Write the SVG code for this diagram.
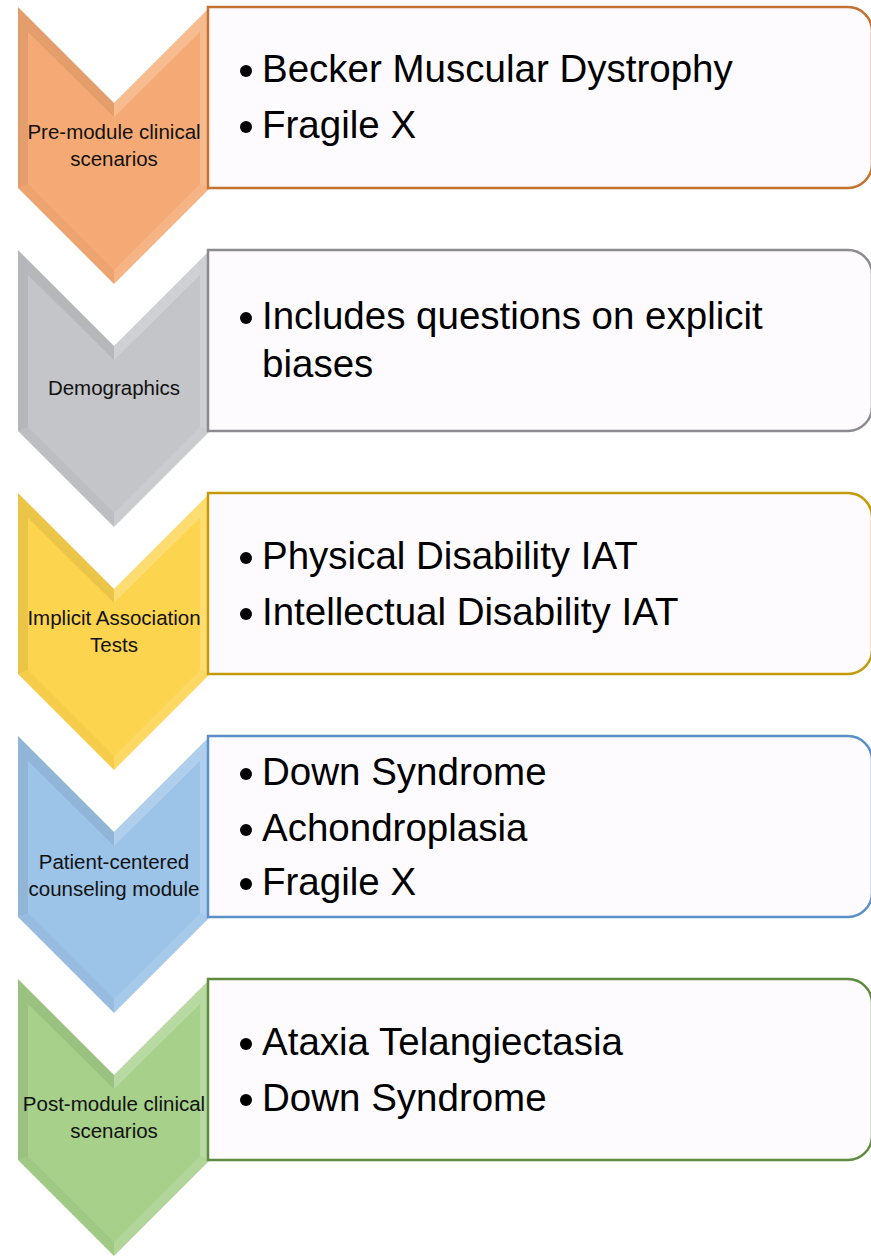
<svg xmlns="http://www.w3.org/2000/svg" width="871" height="1256" viewBox="0 0 871 1256">
<defs>
<style>
.lbl{font-family:"Liberation Sans",Arial,sans-serif;font-size:20.5px;fill:#111;text-anchor:middle}
.item{font-family:"Liberation Sans",Arial,sans-serif;font-size:38.5px;fill:#000}
.box{fill:#FEFBFE;stroke-width:2.5}
.dk{fill:#000;opacity:0.07}
.dk2{fill:#000;opacity:0.03}
.lt{fill:#fff;opacity:0.2}
.lt2{fill:#fff;opacity:0.12}
.bul{fill:#000}
</style>
<g id="chev">
<polygon points="18,0 114,96 210,0 210,181 114,277 18,181" fill="inherit"/>
<polygon class="dk" points="18,0 28,25 28,177 18,181"/>
<polygon class="dk" points="18,0 114,96 114,110 28,25"/>
<polygon class="lt" points="114,96 210,0 200,25 114,110"/>
<polygon class="lt" points="210,0 210,181 200,177 200,25"/>
<polygon class="dk2" points="18,181 28,177 114,263 114,277"/>
<polygon class="lt2" points="210,181 114,277 114,263 200,177"/>
</g>
</defs>

<g id="node1">
<use href="#chev" y="7" fill="#F5AA75"/>
<path class="box" stroke="#C4702F" d="M208,7 H848 A24,24 0 0 1 872,31 V164 A24,24 0 0 1 848,188 H208 Z"/>
<text class="lbl" x="114" y="139">Pre-module clinical</text>
<text class="lbl" x="114" y="166">scenarios</text>
<circle class="bul" cx="246" cy="71" r="6"/>
<text class="item" x="262" y="82">Becker Muscular Dystrophy</text>
<circle class="bul" cx="246" cy="127" r="6"/>
<text class="item" x="262" y="138">Fragile X</text>
</g>

<g id="node2">
<use href="#chev" y="250" fill="#C4C5C9"/>
<path class="box" stroke="#8C8C90" d="M208,250 H848 A24,24 0 0 1 872,274 V407 A24,24 0 0 1 848,431 H208 Z"/>
<text class="lbl" x="114" y="395">Demographics</text>
<circle class="bul" cx="246" cy="318" r="6"/>
<text class="item" x="262" y="329">Includes questions on explicit</text>
<text class="item" x="262" y="377">biases</text>
</g>

<g id="node3">
<use href="#chev" y="493" fill="#FDD44E"/>
<path class="box" stroke="#C49A0A" d="M208,493 H848 A24,24 0 0 1 872,517 V650 A24,24 0 0 1 848,674 H208 Z"/>
<text class="lbl" x="114" y="625">Implicit Association</text>
<text class="lbl" x="114" y="652">Tests</text>
<circle class="bul" cx="246" cy="558" r="6"/>
<text class="item" x="262" y="569">Physical Disability IAT</text>
<circle class="bul" cx="246" cy="614" r="6"/>
<text class="item" x="262" y="625">Intellectual Disability IAT</text>
</g>

<g id="node4">
<use href="#chev" y="736" fill="#9CC3E8"/>
<path class="box" stroke="#5B8FC8" d="M208,736 H848 A24,24 0 0 1 872,760 V893 A24,24 0 0 1 848,917 H208 Z"/>
<text class="lbl" x="114" y="869">Patient-centered</text>
<text class="lbl" x="114" y="896">counseling module</text>
<circle class="bul" cx="246" cy="774" r="6"/>
<text class="item" x="262" y="785">Down Syndrome</text>
<circle class="bul" cx="246" cy="830" r="6"/>
<text class="item" x="262" y="841">Achondroplasia</text>
<circle class="bul" cx="246" cy="884" r="6"/>
<text class="item" x="262" y="895">Fragile X</text>
</g>

<g id="node5">
<use href="#chev" y="979" fill="#A7D08B"/>
<path class="box" stroke="#5E8C3E" d="M208,979 H848 A24,24 0 0 1 872,1003 V1136 A24,24 0 0 1 848,1160 H208 Z"/>
<text class="lbl" x="114" y="1111">Post-module clinical</text>
<text class="lbl" x="114" y="1138">scenarios</text>
<circle class="bul" cx="246" cy="1044" r="6"/>
<text class="item" x="262" y="1055">Ataxia Telangiectasia</text>
<circle class="bul" cx="246" cy="1100" r="6"/>
<text class="item" x="262" y="1111">Down Syndrome</text>
</g>

<g id="connectors"></g>
</svg>
